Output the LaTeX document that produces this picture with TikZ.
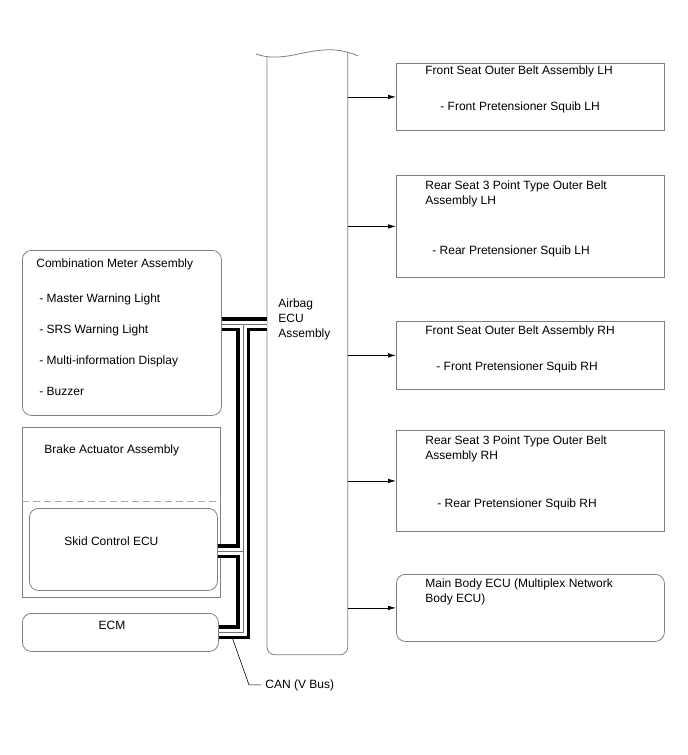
\documentclass[tikz,border=0pt]{standalone}
\usepackage{fontspec}
\setmainfont{Liberation Sans}
\usetikzlibrary{arrows.meta}

\begin{document}
\begin{tikzpicture}[x=1pt, y=-1pt, line width=0.8pt,
  box/.style={draw=black!50, anchor=north west, inner sep=0pt},
  rbox/.style={box, rounded corners=9pt},
  txt/.style={anchor=base west, inner sep=0pt, align=left,
              font=\fontsize{12}{15}\selectfont},
  arr/.style={-{Latex[length=8pt,width=4.5pt]}, line width=0.6pt}]
  \useasboundingbox (0,0) rectangle (688,755);

  % airbag ECU, cut off at the top
  \node[inner sep=0pt, anchor=north west, minimum width=80pt,
        minimum height=602pt] (airbag) at (267,52) {};
  \draw[black!50] (256,54) .. controls (290,66) and (318,38) .. (358,56);
  \draw[black!50, rounded corners=8pt] (airbag.north west) ++(0,5)
    -- (airbag.south west) -- (airbag.south east) -- (airbag.north east);
  % base of a multi-line node is its last line
  \node[txt] (abtxt) at (278,337) {Airbag\\ECU\\Assembly};

  % squibs and body ECU on the right
  \node[box, minimum width=268pt, minimum height=67pt] (fsl) at (396,63) {};
  \node[txt] (fsltxt) at (425,74) {Front Seat Outer Belt Assembly LH};
  \node[txt] (fslsq) at (440,110) {- Front Pretensioner Squib LH};
  \node[box, minimum width=268pt, minimum height=102pt] (rsl) at (396,175) {};
  \node[txt] (rsltxt) at (425,204) {Rear Seat 3 Point Type Outer Belt\\Assembly LH};
  \node[txt] (rslsq) at (432,254) {- Rear Pretensioner Squib LH};
  \node[box, minimum width=268pt, minimum height=68pt] (fsr) at (396,321) {};
  \node[txt] (fsrtxt) at (425,334) {Front Seat Outer Belt Assembly RH};
  \node[txt] (fsrsq) at (436,370) {- Front Pretensioner Squib RH};
  \node[box, minimum width=268pt, minimum height=101pt] (rsr) at (396,430) {};
  \node[txt] (rsrtxt) at (425,459) {Rear Seat 3 Point Type Outer Belt\\Assembly RH};
  \node[txt] (rsrsq) at (437,507) {- Rear Pretensioner Squib RH};
  \node[rbox, minimum width=268pt, minimum height=67pt] (mbe) at (396,574) {};
  \node[txt] (mbetxt) at (425,602) {Main Body ECU (Multiplex Network\\Body ECU)};
  \foreach \b in {fsl, rsl, fsr, rsr, mbe}
    \draw[arr] (airbag.east |- \b.west) -- (\b.west);

  % combination meter
  \node[rbox, minimum width=199pt, minimum height=165pt] (meter) at (22,250) {};
  \node[txt] (metertxt) at (36,267) {Combination Meter Assembly};
  \foreach \y/\t in {298/Master Warning Light, 329/SRS Warning Light,
                     360/Multi-information Display, 391/Buzzer}
    \node[txt] (item\y) at (39,\y+4) {- \t};

  % brake actuator with skid control ECU
  \node[box, minimum width=198pt, minimum height=170pt] (brake) at (22,427) {};
  \node[txt] (braketxt) at (44,453) {Brake Actuator Assembly};
  \coordinate (split) at (0,501);
  \draw[black!35, dash pattern=on 7pt off 4pt]
    (brake.west |- split) -- (brake.east |- split);
  \node[rbox, minimum width=188pt, minimum height=82pt] (skid) at (29,508) {};
  \node[txt] (skidtxt) at (64,545) {Skid Control ECU};

  % ECM
  \node[rbox, minimum width=196pt, minimum height=38pt] (ecm) at (22,613) {};
  \node[txt, anchor=base] (ecmtxt) at (112,629) {ECM};

  % CAN bus
  \coordinate (canTop) at (243,324);
  \coordinate (canSkid) at (243,551);
  \coordinate (canBot) at (243,632);
  \foreach \w/\c in {14pt/black, 7pt/white, 0.7pt/black!55}
    \draw[line width=\w, draw=\c]
      (meter.east |- canTop) -- (airbag.west |- canTop)
      (canTop) -- (canBot) -- (ecm.east |- canBot)
      (skid.east |- canSkid) -- (canSkid);
  \node[txt] (canlbl) at (265,688) {CAN (V Bus)};
  \coordinate (canTap) at (232,637);
  \coordinate (canKnee) at (249,0);
  \draw[line width=0.6pt] (canTap) -- (canlbl.west -| canKnee)
    -- ([xshift=-4pt]canlbl.west);
\end{tikzpicture}
\end{document}
